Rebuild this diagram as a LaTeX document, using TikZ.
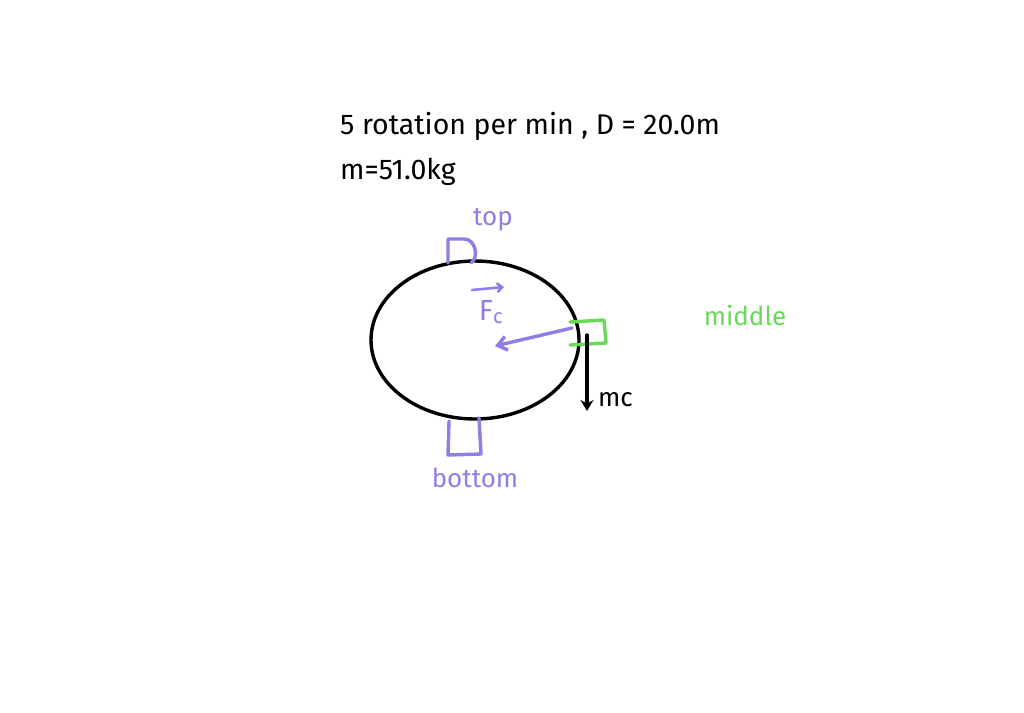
\documentclass[tikz,border=0pt]{standalone}
\usepackage{fontspec}
\setmainfont{Fira Sans}
\usetikzlibrary{arrows.meta}
\definecolor{penpurple}{RGB}{140,128,230}
\definecolor{pengreen}{RGB}{104,218,88}
\tikzset{
  pen/.style={draw=black, line width=3.4pt, line cap=round, line join=round},
  purplepen/.style={draw=penpurple, line width=3.4pt, line cap=round, line join=round},
  greenpen/.style={draw=pengreen, line width=3.4pt, line cap=round, line join=round},
  hand/.style={font=\fontsize{26}{30}\selectfont, inner sep=0pt},
  bighand/.style={font=\fontsize{28.5}{32}\selectfont, inner sep=0pt}
}
\begin{document}
\begin{tikzpicture}[x=1pt,y=-1pt]
	\useasboundingbox (0,0) rectangle (1024,712);
	\fill[white] (0,0) rectangle (1024,712);
	% given data
	\node[bighand, black, anchor=west] (data) at (340,126) {5 rotation per min , D = 20.0m};
	\node[bighand, black, anchor=west] (mass) at (340,172) {m=51.0kg};
	% wheel
	\coordinate (hub) at (475,340);
	\draw[pen] (hub) ellipse [x radius=104, y radius=79];
	% top
	\draw[purplepen] (448,263) -- (448,239) -- (464,239) .. controls (476,239) and (479,258) .. (471,263);
	\node[hand, penpurple] (toplabel) at (493,220) {top};
	% middle
	\coordinate (rim) at (572,328);
	\coordinate (inner) at (495,346);
	\draw[greenpen] (570,322) -- (604,320) -- (606,343) -- (570,345);
	\node[hand, pengreen] (midlabel) at (745,316) {middle};
	\draw[purplepen, -{Straight Barb[length=9pt,width=14pt]}] (rim) -- (inner);
	\node[hand, penpurple, font=\fontsize{29}{32}\selectfont] (fc) at (491,312) {F\textsubscript{c}};
	\coordinate (vecstart) at (472,290);
	\coordinate (vecend) at (504,287);
	\draw[purplepen, line width=2.6pt, -{Straight Barb[length=5pt,width=9pt]}] (vecstart) -- (vecend);
	\coordinate (wtop) at (587,335);
	\coordinate (wend) at (587,411);
	\draw[pen, -{Stealth[length=11pt,width=13pt]}] (wtop) -- (wend);
	\node[hand, black, anchor=west] (weight) at (598,400) {mc};
	% bottom
	\draw[purplepen] (449,421) -- (448,455) -- (481,454) -- (479,418);
	\node[hand, penpurple] (botlabel) at (475,478) {bottom};
\end{tikzpicture}
\end{document}
